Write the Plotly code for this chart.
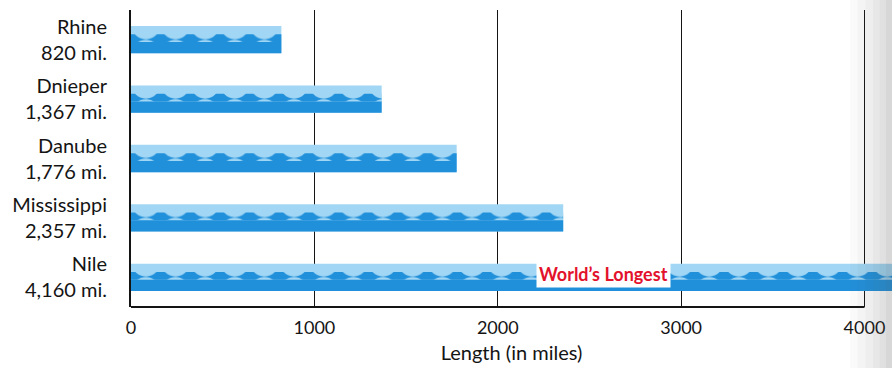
import plotly.graph_objects as go

# River lengths in miles
rivers = ["Rhine", "Dnieper", "Danube", "Mississippi", "Nile"]
lengths = [820, 1367, 1776, 2357, 4160]
x_ticks = [0, 1000, 2000, 3000, 4000]
x_tick_text = ["0", "1000", "2000", "3000", "4000"]
axis_end = 4000

callout_text = "World\u2019s Longest"

FONT = "Lato"
INK = "#141414"
LIGHT = "#a1d6f4"
DARK = "#2190db"

labels = [f"{r}<br>{v:,} mi." for r, v in zip(rivers, lengths)]

fig = go.Figure()

# light water band (full bar)
fig.add_trace(go.Bar(
    y=labels, x=lengths, orientation="h",
    width=0.46, offset=-0.23,
    marker=dict(color=LIGHT, line=dict(width=0)),
    hoverinfo="skip", showlegend=False,
))
# wave crests: patterned middle band
fig.add_trace(go.Bar(
    y=labels, x=lengths, orientation="h",
    width=0.13, offset=-0.09,
    marker=dict(color=DARK, line=dict(width=0),
                pattern=dict(shape=".", fgcolor=LIGHT, bgcolor=DARK,
                             size=29.65, solidity=0.75, fillmode="replace")),
    hoverinfo="skip", showlegend=False,
))
# solid deep water at the bottom of each bar
fig.add_trace(go.Bar(
    y=labels, x=lengths, orientation="h",
    width=0.19, offset=0.04,
    marker=dict(color=DARK, line=dict(width=0)),
    hoverinfo="skip", showlegend=False,
))

# callout on the longest river
fig.add_annotation(
    x=2575, y=labels[-1], xref="x", yref="y",
    text=f"<b>{callout_text}</b>", showarrow=False,
    font=dict(family=FONT, size=18, color="#e3122c"),
    bgcolor="white", borderpad=2, yshift=3,
)

# bottom axis line stops at the last tick
fig.add_shape(type="line", xref="x", yref="paper",
              x0=0, x1=axis_end, y0=0, y1=0,
              line=dict(color=INK, width=2), layer="below")

# page-edge shading on the right
for x0, a in [(0.945, 0.03), (0.955, 0.035), (0.965, 0.04),
              (0.975, 0.045), (0.984, 0.05), (0.992, 0.06)]:
    fig.add_shape(type="rect", xref="paper", yref="paper",
                  x0=x0, x1=1.0, y0=-0.25, y1=1.04,
                  fillcolor=f"rgba(90,90,90,{a})", line=dict(width=0),
                  layer="above")

fig.update_layout(
    width=892, height=368,
    margin=dict(l=131, r=0, t=10, b=61),
    paper_bgcolor="white", plot_bgcolor="white",
    barmode="overlay",
    font=dict(family=FONT, size=20, color=INK),
    xaxis=dict(
        range=[0, 4150], tickvals=x_ticks, ticktext=x_tick_text,
        showgrid=True, gridcolor=INK, gridwidth=1.3,
        showline=False, zeroline=False, ticks="", ticklabelstandoff=8,
        tickfont=dict(family=FONT, size=18),
        title=dict(text="Length (in miles)", standoff=8,
                   font=dict(family=FONT, size=20)),
        layer="below traces",
    ),
    yaxis=dict(
        autorange="reversed", categoryorder="array", categoryarray=labels,
        showgrid=False, showline=True, linecolor=INK, linewidth=2,
        zeroline=False, ticks="", ticklabelstandoff=18,
        tickfont=dict(family=FONT, size=20),
        layer="below traces",
    ),
)

fig.write_html("out.html")
